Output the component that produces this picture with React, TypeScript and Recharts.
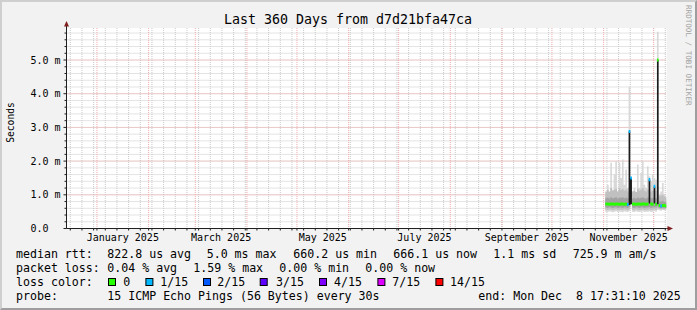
import React from 'react';
import { ComposedChart, Area, XAxis, YAxis, CartesianGrid } from 'recharts';

const MONO = '"DejaVu Sans Mono", monospace';
const DAY = 86400000;
const END_TIME = Date.UTC(2025, 11, 8, 17, 31, 10);
const START_TIME = END_TIME - 360 * DAY;
const FIRST_DATA_DAY = Date.UTC(2025, 10, 2);

// daily RTT statistics in milliseconds, Nov 2 .. Dec 8 2025 (null = no data)
const rttMin = [0.50, 0.49, 0.51, 0.50, 0.48, 0.50, 0.51, 0.49, 0.50, 0.50, 0.48, 0.51, 0.50, 0.49, 0.52, null, 0.50, 0.49, 0.51, 0.50, 0.49, 0.50, 0.51, 0.49, 0.50, 0.50, 0.51, 0.49, 0.50, 0.52, 0.50, 0.55, 0.54, 0.53, 0.55, 0.54, 0.55];
const rttP10 = [0.56, 0.55, 0.57, 0.56, 0.55, 0.56, 0.57, 0.55, 0.56, 0.56, 0.55, 0.57, 0.56, 0.55, 0.58, null, 0.56, 0.55, 0.57, 0.56, 0.55, 0.56, 0.57, 0.55, 0.56, 0.56, 0.57, 0.55, 0.56, 0.57, 0.56, 0.60, 0.58, 0.57, 0.58, 0.57, 0.58];
const rttP30 = [0.62, 0.61, 0.63, 0.62, 0.61, 0.62, 0.63, 0.61, 0.62, 0.62, 0.61, 0.63, 0.62, 0.61, 0.65, null, 0.62, 0.61, 0.63, 0.62, 0.61, 0.62, 0.63, 0.61, 0.62, 0.62, 0.64, 0.61, 0.62, 0.63, 0.62, 0.66, 0.61, 0.60, 0.61, 0.60, 0.61];
const rttP70 = [0.90, 0.92, 0.89, 0.93, 0.90, 0.91, 0.93, 0.89, 0.92, 0.91, 0.93, 0.90, 0.92, 0.90, 0.95, null, 0.89, 0.91, 0.88, 0.92, 0.90, 0.91, 0.93, 0.90, 0.89, 0.92, 0.93, 0.90, 0.91, 0.92, 0.90, 0.98, 0.80, 0.81, 0.82, 0.79, 0.80];
const rttP90 = [1.10, 1.15, 1.10, 1.20, 1.12, 1.15, 1.18, 1.10, 1.20, 1.14, 1.18, 1.12, 1.16, 1.10, 1.20, null, 1.10, 1.12, 1.08, 1.18, 1.12, 1.15, 1.20, 1.12, 1.10, 1.16, 1.15, 1.10, 1.12, 1.15, 1.12, 1.25, 0.95, 0.98, 1.00, 0.95, 0.92];
const rttMax = [1.00, 1.30, 1.05, 1.95, 1.15, 1.60, 2.00, 1.10, 1.95, 1.50, 2.05, 1.30, 1.75, 1.20, 4.20, null, 1.10, 1.20, 1.00, 1.90, 1.20, 1.65, 2.00, 1.30, 1.20, 1.85, 1.55, 1.40, 1.60, 1.50, 1.45, 5.84, 1.00, 1.10, 1.35, 1.00, 0.95];
const rttMedian = [0.73, 0.73, 0.72, 0.73, 0.73, 0.72, 0.73, 0.73, 0.72, 0.73, 0.73, 0.72, 0.73, 0.71, 2.88, 1.50, 0.73, 0.73, 0.72, 0.73, 0.73, 0.72, 0.73, 0.73, 0.72, 0.73, 1.45, 0.73, 0.72, 1.25, 0.72, 5.00, 0.68, 0.67, 0.68, 0.68, 0.67];
const spikeBase = [null, null, null, null, null, null, null, null, null, null, null, null, null, null, 0.70, 0.72, null, null, null, null, null, null, null, null, null, null, 0.74, null, null, 0.74, null, 0.72, null, null, null, null, null];
const spikeTop = [null, null, null, null, null, null, null, null, null, null, null, null, null, null, 2.88, 1.50, null, null, null, null, null, null, null, null, null, null, 1.45, null, null, 1.25, null, 5.00, null, null, null, null, null];
const lossFifteenths = [0, 0, 0, 0, 0, 0, 0, 0, 0, 0, 0, 0, 0, 1, 1, 1, 0, 0, 0, 0, 0, 0, 0, 0, 0, 0, 1, 0, 0, 1, 0, 0, 0, 1, 0, 0, 0];

const MEDIAN_HALF = 0.045;

const lossLegend = ['0', '1/15', '2/15', '3/15', '4/15', '7/15', '14/15'];
const lossColors = ['#26ff00', '#00b8ff', '#0059ff', '#5e00ff', '#7e00ff', '#dd00ff', '#ff0000'];

const labelMonthIdx = [0, 2, 4, 6, 8, 10];
const labelMonthNames = ['January 2025', 'March 2025', 'May 2025', 'July 2025', 'September 2025', 'November 2025'];
const yMajor = [0, 1, 2, 3, 4, 5];

const rttRow = ['median rtt:', '822.8 us avg', '5.0 ms max', '660.2 us min', '666.1 us now', '1.1 ms sd', '725.9 m am/s'];
const lossRow = ['packet loss:', '0.04 % avg', '1.59 % max', '0.00 % min', '0.00 % now'];
const probeRow = ['probe:', '15 ICMP Echo Pings (56 Bytes) every 30s', 'end: Mon Dec  8 17:31:10 2025'];
const TITLE = 'Last 360 Days from d7d21bfa47ca';

// layout positions (pixels) for legend pieces
const rttX = [16, 107.3, 206.7, 293.3, 393.3, 493.3, 572.7];
const lossX = [16, 107.3, 193.3, 279.3, 365.3];
const probeX = [16, 107.3, 478.3];
const boxX = [108.3, 145.7, 203.3, 260, 319.3, 377.7, 435.7];
const boxLabelX = [123.3, 160.3, 217.3, 276, 334, 392.3, 450];

const rng = (a: number | null, b: number | null) => (a != null && b != null ? [a, b] : null);

const rows: any[] = [];
rttMedian.forEach((med, i) => {
  const t0 = FIRST_DATA_DAY + i * DAY;
  const t1 = Math.min(t0 + DAY, END_TIME);
  const band = rng(med - MEDIAN_HALF, med + MEDIAN_HALF);
  const v = {
    outer: rng(rttMin[i], rttMax[i]),
    mid: rng(rttP10[i], rttP90[i]),
    inner: rng(rttP30[i], rttP70[i]),
    spike: rng(spikeBase[i], spikeTop[i]),
    medOk: lossFifteenths[i] === 0 ? band : null,
    medLoss1: lossFifteenths[i] === 1 ? band : null,
  };
  rows.push({ t: t0, ...v }, { t: t1, ...v });
});

const monthStarts: number[] = [];
for (let m = 0; m < 12; m++) monthStarts.push(Date.UTC(2025, m, 1));
const weekTicks: number[] = [];
for (let t = Date.UTC(2024, 11, 16); t < END_TIME; t += 7 * DAY) weekTicks.push(t);
const labelTicks = labelMonthIdx.map((m) => (Date.UTC(2025, m, 1) + Date.UTC(2025, m + 1, 1)) / 2);
const labelByTime = new Map<number, string>();
labelTicks.forEach((t, k) => labelByTime.set(t, labelMonthNames[k]));
const gridTimes = [...weekTicks, ...monthStarts];
const xTicks = Array.from(new Set([...gridTimes, ...labelTicks])).sort((a, b) => a - b);

const yMinor: number[] = [];
for (let k = 1; k < 30; k++) yMinor.push(Math.round(k * 2) / 10);
const yTicks = [0, ...yMinor];

const fmtY = (v: number) => (v === 0 ? '0.0\u00a0\u00a0' : `${v.toFixed(1)} m`);

const XTick = (props: any) => {
  const { x, y, payload } = props;
  const label = labelByTime.get(payload.value);
  if (label) {
    return (
      <text x={x} y={y + 12} textAnchor="middle" fontFamily={MONO} fontSize={10} fill="#000">
        {label}
      </text>
    );
  }
  return <line x1={x} x2={x} y1={y} y2={y + 2} stroke="#1f1f1f" strokeWidth={1} />;
};

const YTick = (props: any) => {
  const { x, y, payload } = props;
  const v = payload.value;
  const major = Math.abs(v - Math.round(v)) < 1e-6;
  return (
    <g>
      <line x1={x - (major ? 3 : 2)} x2={x} y1={y} y2={y} stroke="#1f1f1f" strokeWidth={1} />
      {major && (
        <text x={x - 6} y={y} dy="0.355em" textAnchor="end" fontFamily={MONO} fontSize={10} fill="#000">
          {fmtY(v)}
        </text>
      )}
    </g>
  );
};

export default function App() {
  return (
    <div style={{ position: 'absolute', left: 0, top: 0, width: 697, height: 310, background: '#f2f2f2', overflow: 'hidden' }}>
      <div
        style={{
          position: 'absolute', left: 0, top: 0, width: 697, height: 310, boxSizing: 'border-box',
          borderTop: '2px solid #cfcfcf', borderLeft: '2px solid #cfcfcf',
          borderRight: '2px solid #9e9e9e', borderBottom: '2px solid #9e9e9e',
        }}
      />
      <div style={{ position: 'absolute', left: 0, top: 0 }}>
        <ComposedChart width={697} height={310} data={rows} margin={{ top: 28, right: 30.5, bottom: 61.5, left: 26.5 }}>
          <CartesianGrid fill="#ffffff" stroke="#c8c8c8" strokeDasharray="1 1" verticalValues={weekTicks} horizontalValues={yMinor} />
          <CartesianGrid stroke="#f2acac" strokeDasharray="1 1" verticalValues={monthStarts} horizontalValues={yMajor.filter((v) => v > 0)} />
          <XAxis
            dataKey="t" type="number" domain={[START_TIME, END_TIME]} allowDataOverflow
            ticks={xTicks} interval={0} tick={XTick} tickLine={false} tickSize={0} tickMargin={0}
            axisLine={{ stroke: '#1f1f1f' }} height={20}
          />
          <YAxis
            type="number" domain={[0, 5.95]} allowDataOverflow ticks={yTicks} interval={0}
            tick={YTick} tickLine={false} tickSize={0} tickMargin={0} axisLine={{ stroke: '#1f1f1f' }} width={40}
          />
          <Area dataKey="outer" type="linear" stroke="none" fill="#d8d8d8" fillOpacity={1} isAnimationActive={false} dot={false} activeDot={false} />
          <Area dataKey="mid" type="linear" stroke="none" fill="#c0c0c0" fillOpacity={1} isAnimationActive={false} dot={false} activeDot={false} />
          <Area dataKey="inner" type="linear" stroke="none" fill="#a2a2a2" fillOpacity={1} isAnimationActive={false} dot={false} activeDot={false} />
          <Area dataKey="spike" type="linear" stroke="none" fill="#1c1c1c" fillOpacity={1} isAnimationActive={false} dot={false} activeDot={false} />
          <Area dataKey="medOk" type="linear" stroke="none" fill={lossColors[0]} fillOpacity={1} isAnimationActive={false} dot={false} activeDot={false} />
          <Area dataKey="medLoss1" type="linear" stroke="none" fill={lossColors[1]} fillOpacity={1} isAnimationActive={false} dot={false} activeDot={false} />
        </ComposedChart>
      </div>
      <svg width={697} height={310} style={{ position: 'absolute', left: 0, top: 0, pointerEvents: 'none' }}>
        <text x={348} y={24.3} textAnchor="middle" fontFamily={MONO} fontSize={13.3} fill="#000">{TITLE}</text>
        <text transform="translate(14,122.5) rotate(-90)" textAnchor="middle" fontFamily={MONO} fontSize={9.6} fill="#000">Seconds</text>
        <text transform="translate(686,5) rotate(90)" fontFamily={MONO} fontSize={7.6} fill="#a4a4a4">RRDTOOL / TOBI OETIKER</text>
        <line x1={66.5} x2={66.5} y1={28} y2={25} stroke="#1f1f1f" />
        <polygon points="66.5,21 64,26.5 69,26.5" fill="#801f1f" />
        <line x1={666.5} x2={668} y1={228.5} y2={228.5} stroke="#1f1f1f" />
        <polygon points="673,228.5 667.5,226 667.5,231" fill="#801f1f" />
        {rttRow.map((s, k) => (
          <text key={'r' + k} x={rttX[k]} y={257.5} fontFamily={MONO} fontSize={11.6} fill="#000" style={{ whiteSpace: 'pre' }}>{s}</text>
        ))}
        {lossRow.map((s, k) => (
          <text key={'l' + k} x={lossX[k]} y={271.5} fontFamily={MONO} fontSize={11.6} fill="#000" style={{ whiteSpace: 'pre' }}>{s}</text>
        ))}
        <text x={16} y={285.5} fontFamily={MONO} fontSize={11.6} fill="#000">loss color:</text>
        {lossLegend.map((s, k) => (
          <g key={'c' + k}>
            <rect x={boxX[k] + 0.2} y={278.5} width={7} height={7} fill={lossColors[k]} stroke="#000" strokeWidth={1} />
            <text x={boxLabelX[k]} y={285.5} fontFamily={MONO} fontSize={11.6} fill="#000">{s}</text>
          </g>
        ))}
        {probeRow.map((s, k) => (
          <text key={'p' + k} x={probeX[k]} y={299.5} fontFamily={MONO} fontSize={11.6} fill="#000" style={{ whiteSpace: 'pre' }}>{s}</text>
        ))}
      </svg>
    </div>
  );
}
